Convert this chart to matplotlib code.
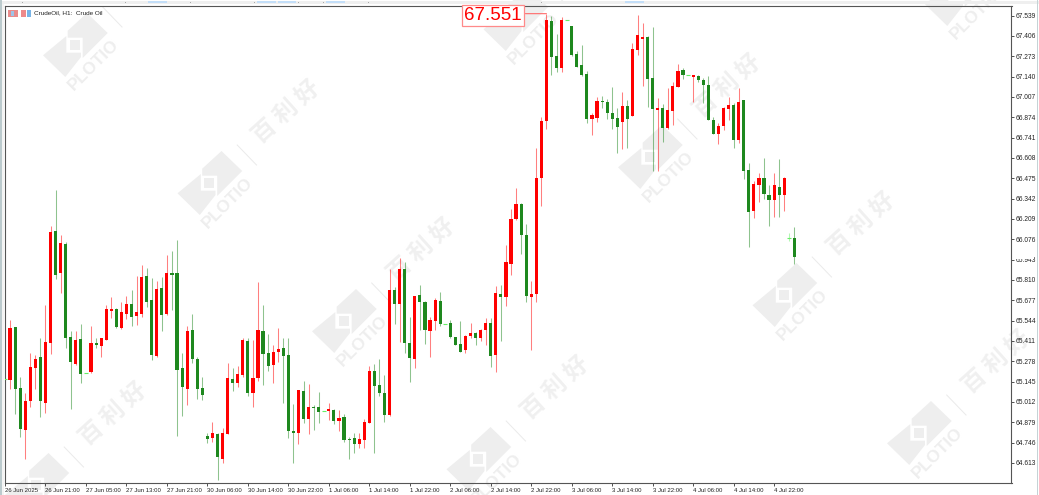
import numpy as np
import matplotlib
matplotlib.use("Agg")
import matplotlib.pyplot as plt
from matplotlib.patches import Rectangle, Polygon
from matplotlib.lines import Line2D
from matplotlib.transforms import IdentityTransform

W, H = 1039, 495

opens = [65.159,
 65.155,65.502,65.105,64.828,65.018,65.234,65.308,65.003,65.399,66.130,
 65.855,66.045,65.436,65.262,65.423,65.199,65.205,65.399,65.380,65.419,
 65.606,65.617,65.493,65.589,65.654,65.576,65.584,65.833,65.676,65.312,
 65.757,65.584,65.857,65.855,65.231,65.096,65.480,65.292,65.101,64.787,
 64.776,64.804,64.638,64.802,65.162,65.135,65.190,65.410,65.070,65.170,
 65.475,65.332,65.253,65.340,65.362,65.318,64.824,64.808,65.083,64.902,
 64.978,64.978,64.950,64.952,64.957,64.887,64.911,64.767,64.778,64.736,
 64.763,64.876,65.214,65.122,65.072,64.926,65.744,65.654,65.881,65.399,
 65.292,65.709,65.665,65.473,65.543,65.674,65.519,65.528,65.434,65.390,
 65.349,65.441,65.465,65.427,65.482,65.528,65.318,65.717,65.700,65.914,
 66.206,66.308,66.101,65.700,65.718,66.478,66.847,67.503,67.274,67.195,
 67.507,67.468,67.287,67.217,67.156,66.862,66.870,66.979,66.971,66.903,
 66.868,66.844,66.947,66.884,67.313,67.385,67.396,67.130,66.919,66.936,
 66.801,66.914,67.074,67.180,67.150,67.137,67.141,67.117,67.084,66.853,
 66.764,66.816,66.927,66.953,66.723,66.984,66.528,66.258,66.429,66.474,
 66.365,66.332,66.415,66.365,66.084,66.084]

closes = [65.159,
 65.497,65.096,64.833,65.018,65.240,65.292,65.018,65.406,66.125,65.842,
 66.049,65.432,65.271,65.417,65.196,65.199,65.397,65.382,65.428,65.619,
 65.619,65.502,65.598,65.650,65.569,65.598,65.829,65.665,65.317,65.750,
 65.582,65.855,65.842,65.221,65.109,65.476,65.292,65.094,65.059,64.767,
 64.806,64.654,64.811,65.166,65.133,65.194,65.417,65.070,65.170,65.480,
 65.327,65.247,65.338,65.358,65.312,64.824,64.808,65.088,64.898,64.978,
 64.972,64.948,64.950,64.968,64.887,64.906,64.760,64.763,64.734,64.767,
 64.878,65.214,65.116,65.072,64.924,65.744,65.652,65.881,65.399,65.299,
 65.704,65.663,65.482,65.547,65.678,65.519,65.519,65.436,65.386,65.340,
 65.443,65.460,65.432,65.484,65.530,65.312,65.724,65.696,65.927,66.206,
 66.306,66.103,65.704,65.718,66.474,66.847,67.509,67.270,67.193,67.509,
 67.507,67.278,67.204,67.147,66.864,66.886,66.977,66.975,66.903,66.864,
 66.810,66.945,66.864,67.320,67.409,67.396,67.126,66.925,66.936,66.803,
 66.921,67.080,67.176,67.147,67.150,67.150,67.117,67.082,66.856,66.766,
 66.816,66.936,66.951,66.723,66.973,66.524,66.252,66.437,66.476,66.374,
 66.330,66.429,66.363,66.478,66.084,65.957]

highs = [65.159,
 65.548,65.504,65.177,65.072,65.330,65.317,65.428,65.646,66.162,66.398,
 66.103,66.055,65.476,65.476,65.521,65.199,65.508,65.428,65.432,65.646,
 65.700,65.628,65.667,65.705,65.744,65.835,65.907,65.885,65.820,65.803,
 65.827,65.973,65.999,66.071,65.330,65.508,65.584,65.303,65.172,64.806,
 64.883,64.806,64.839,65.268,65.231,65.247,65.428,65.428,65.417,65.796,
 65.645,65.456,65.384,65.497,65.432,65.427,64.998,65.090,65.146,65.127,
 64.991,65.074,64.950,65.005,64.965,64.957,64.935,64.784,64.808,64.806,
 64.898,65.247,65.257,65.290,65.188,65.879,65.765,65.951,65.925,65.569,
 65.704,65.774,65.674,65.565,65.693,65.731,65.519,65.547,65.438,65.543,
 65.449,65.526,65.469,65.489,65.558,65.563,65.770,65.774,66.038,66.271,
 66.408,66.310,66.175,65.803,66.675,66.873,67.551,67.535,67.418,67.527,
 67.507,67.470,67.309,67.346,67.176,66.903,67.003,67.012,66.995,67.071,
 66.932,67.036,66.986,67.357,67.542,67.488,67.405,67.466,66.997,66.958,
 67.063,67.102,67.222,67.196,67.150,67.152,67.150,67.132,67.143,66.877,
 66.834,66.943,67.006,66.969,67.063,66.986,66.572,66.457,66.511,66.605,
 66.429,66.507,66.598,66.480,66.114,66.154]

lows = [65.159,
 65.096,64.931,64.785,64.638,64.976,65.096,64.911,64.941,65.325,65.813,
 65.722,65.367,64.968,65.253,65.138,65.199,65.203,65.362,65.308,65.417,
 65.563,65.493,65.491,65.552,65.508,65.515,65.567,65.635,65.286,65.308,
 65.473,65.582,65.613,64.789,64.922,64.992,65.266,65.029,65.024,64.745,
 64.750,64.501,64.615,64.800,65.085,65.111,65.177,65.053,64.981,65.151,
 65.122,65.214,65.138,65.271,65.002,64.773,64.614,64.734,64.876,64.804,
 64.828,64.874,64.950,64.893,64.869,64.824,64.752,64.641,64.680,64.710,
 64.710,64.874,64.680,65.053,64.880,64.920,65.521,65.406,65.334,65.142,
 65.236,65.482,65.393,65.303,65.482,65.506,65.519,65.427,65.382,65.338,
 65.332,65.432,65.382,65.410,65.384,65.242,65.209,65.412,65.641,65.842,
 66.202,65.979,65.663,65.351,65.668,66.293,66.794,67.150,67.172,67.172,
 67.507,67.276,67.200,67.143,66.834,66.759,66.842,66.936,66.864,66.794,
 66.642,66.664,66.670,66.882,67.280,67.078,66.943,66.524,66.524,66.714,
 66.794,66.823,67.072,67.122,67.150,66.975,67.104,66.969,66.853,66.762,
 66.701,66.792,66.855,66.675,66.703,66.470,66.023,66.217,66.321,66.339,
 66.160,66.221,66.221,66.262,66.066,65.916]

y_ticks = [67.539,67.406,67.273,67.140,67.007,66.874,66.741,66.608,66.475,66.342,66.209,
           66.076,65.943,65.810,65.677,65.544,65.411,65.278,65.145,65.012,64.879,64.746,64.613]
x_labels = ["26 Jun 2025","26 Jun 21:00","27 Jun 05:00","27 Jun 13:00","27 Jun 21:00",
            "30 Jun 06:00","30 Jun 14:00","30 Jun 22:00","1 Jul 06:00","1 Jul 14:00",
            "1 Jul 22:00","2 Jul 06:00","2 Jul 14:00","2 Jul 22:00","3 Jul 06:00",
            "3 Jul 14:00","3 Jul 22:00","4 Jul 06:00","4 Jul 14:00","4 Jul 22:00"]
title_text = "CrudeOil, H1:  Crude Oil"

UP, DOWN, DOJI = "#ff0000", "#1e881e", "#66ee66"
FONT = ["Liberation Sans", "DejaVu Sans"]

fig = plt.figure(figsize=(W/100, H/100), dpi=100, facecolor="white")
L, R, T, B = 5.0, 1011.5, 6.0, 483.0
ax = fig.add_axes([L/W, (H-B)/H, (R-L)/W, (B-T)/H])
ax.patch.set_visible(False)

PPB = 5.06
PPU = 152.9
ax.set_xlim(0, (R-L)/PPB)
ax.set_ylim(67.539-(B-15.5)/PPU, 67.539+(15.5-T)/PPU)

o, c, hi, lo = map(np.array, (opens, closes, highs, lows))
x = np.arange(len(o))
colors = np.where(c > o, UP, np.where(c < o, DOWN, DOJI))

ax.vlines(x, lo, hi, colors=list(colors), linewidth=0.75, alpha=0.5, zorder=2)
body = c != o
ax.bar(x[body], np.abs(c-o)[body], bottom=np.minimum(o, c)[body], width=0.62,
       color=list(colors[body]), linewidth=0, zorder=3)
ax.hlines(o[~body], x[~body]-0.4, x[~body]+0.4, colors=DOJI, linewidth=0.8, zorder=3)

ax.yaxis.tick_right()
ax.set_yticks(y_ticks)
ax.set_yticklabels([f"{v:.3f}" for v in y_ticks], fontsize=4.8, family=FONT, color="#222222")
ax.tick_params(axis="y", length=2.2, width=0.6, pad=0.6, color="#333333")
ax.set_xticks(np.arange(len(x_labels))*8)
ax.set_xticklabels(x_labels, fontsize=4.3, family=FONT, color="#222222", ha="left")
ax.tick_params(axis="x", length=2.5, width=0.6, pad=0.8, color="#333333")
for s in ax.spines.values():
    s.set_linewidth(0.8)
    s.set_color("#555555")

# high-price label
imax = int(np.argmax(hi))
ax.annotate("", xy=(imax, hi[imax]), xytext=(-21, 0), textcoords="offset pixels",
            arrowprops=dict(arrowstyle="-", color="#ff6a6a", lw=0.8, shrinkA=0, shrinkB=0), zorder=5)
ax.annotate(f"{hi[imax]:.3f}", xy=(imax, hi[imax]), xytext=(-53.5, -1.5), textcoords="offset pixels",
            ha="center", va="center", fontsize=13.5, family=FONT, color="#ff0000",
            bbox=dict(boxstyle="square,pad=0.11", fc="white", ec="#ff8a8a", lw=0.9), zorder=6, annotation_clip=False)

# --- window chrome & watermark, in pixel coordinates (y down)
def px(xp, yp):
    return (xp, H-yp)
I = IdentityTransform()
def frect(x0, y0, x1, y1, col, z):
    fig.add_artist(Rectangle(px(x0, y1), x1-x0, y1-y0, transform=I, fc=col, ec="none", zorder=z))

WM = "#eeeeee"
def logo(cx, cy):
    p1 = [(12,-32),(32.7,-12),(7.7,13),(7.7,-7.3),(-7.3,-7.3),(-7.3,-14.3)]
    p2 = [(-8.7,-9),(-8.7,7.7),(6,7.7),(6,12),(-9.7,32),(-32,10.3)]
    p3 = [(-5.5,-5),(4.5,-5),(4.5,5),(-5.5,5)]
    for p in (p1, p2, p3):
        fig.add_artist(Polygon([px(cx+a, cy+b) for a, b in p], closed=True, transform=I,
                               fc=WM, ec="none", zorder=-5))
    fig.add_artist(Line2D(*zip(px(cx+27.7, cy-38), px(cx+47, cy-18)), transform=I,
                          color="#eaeaea", lw=0.7, zorder=-5))
    a = px(cx+18.3, cy+20)
    if -10 < a[0] < W+10 and -10 < a[1] < H+10:
        fig.text(a[0], a[1], "PLOTIO", transform=I, rotation=45, ha="center", va="center",
                 rotation_mode="anchor", fontsize=12.5, family=FONT, weight="bold", color=WM, zorder=-5)
    b = px(cx+77, cy-71)
    if -10 < b[0] < W+10 and -10 < b[1] < H+10:
        fig.text(b[0], b[1], "百 利 好", transform=I, rotation=42, ha="center", va="center",
                 rotation_mode="anchor", fontsize=17, family=["Noto Sans CJK SC"], weight="bold",
                 color="#f0f0f0", zorder=-5)

centers = []
for ox, oy in [(75,45),(650,157),(515,20),(-367,71),(957,-6)]:
    for k in range(-1, 5):
        centers.append((ox+134.5*k, oy+138*k))
seen = []
for cx, cy in centers:
    if -120 < cx < W+120 and -120 < cy < H+120:
        if not any(abs(cx-a) < 20 and abs(cy-b) < 20 for a, b in seen):
            seen.append((cx, cy))
            logo(cx, cy)

frect(0, 1, W, 4, "#efefef", 8)
for a, b in [(148,167),(257,276),(278,296),(326,345),(625,644)]:
    frect(a, 1, b, 3.2, "#c3def8", 9)
for a in [22,125,190,254,298,323,368,541]:
    frect(a, 1.5, a+1, 3, "#a8a8a8", 9)
frect(0, 0, 1.6, H, "#bccbce", 8)
frect(1.6, 4, 4.4, H, "#f4f4f4", 8)
frect(1036.5, 0, 1038, H, "#c5d3d6", 8)

# the clipped tick label on 65.943
frect(1015, 255.5, 1034, 259.2, "white", 8)

# header
frect(7.5, 9.5, 17.5, 16.5, "#e98c8c", 8)
frect(11, 10.5, 14, 15.5, "#9ec4e8", 9)
frect(21, 10, 25.5, 16.5, "#ee8a8a", 8)
frect(26.5, 10, 30.5, 16.5, "#78b4e6", 8)
fig.text(34.5, H-13.2, title_text, transform=I, fontsize=4.6, family=FONT, color="#222222",
         ha="left", va="center", zorder=8)

fig.savefig("out.png", dpi=100)
